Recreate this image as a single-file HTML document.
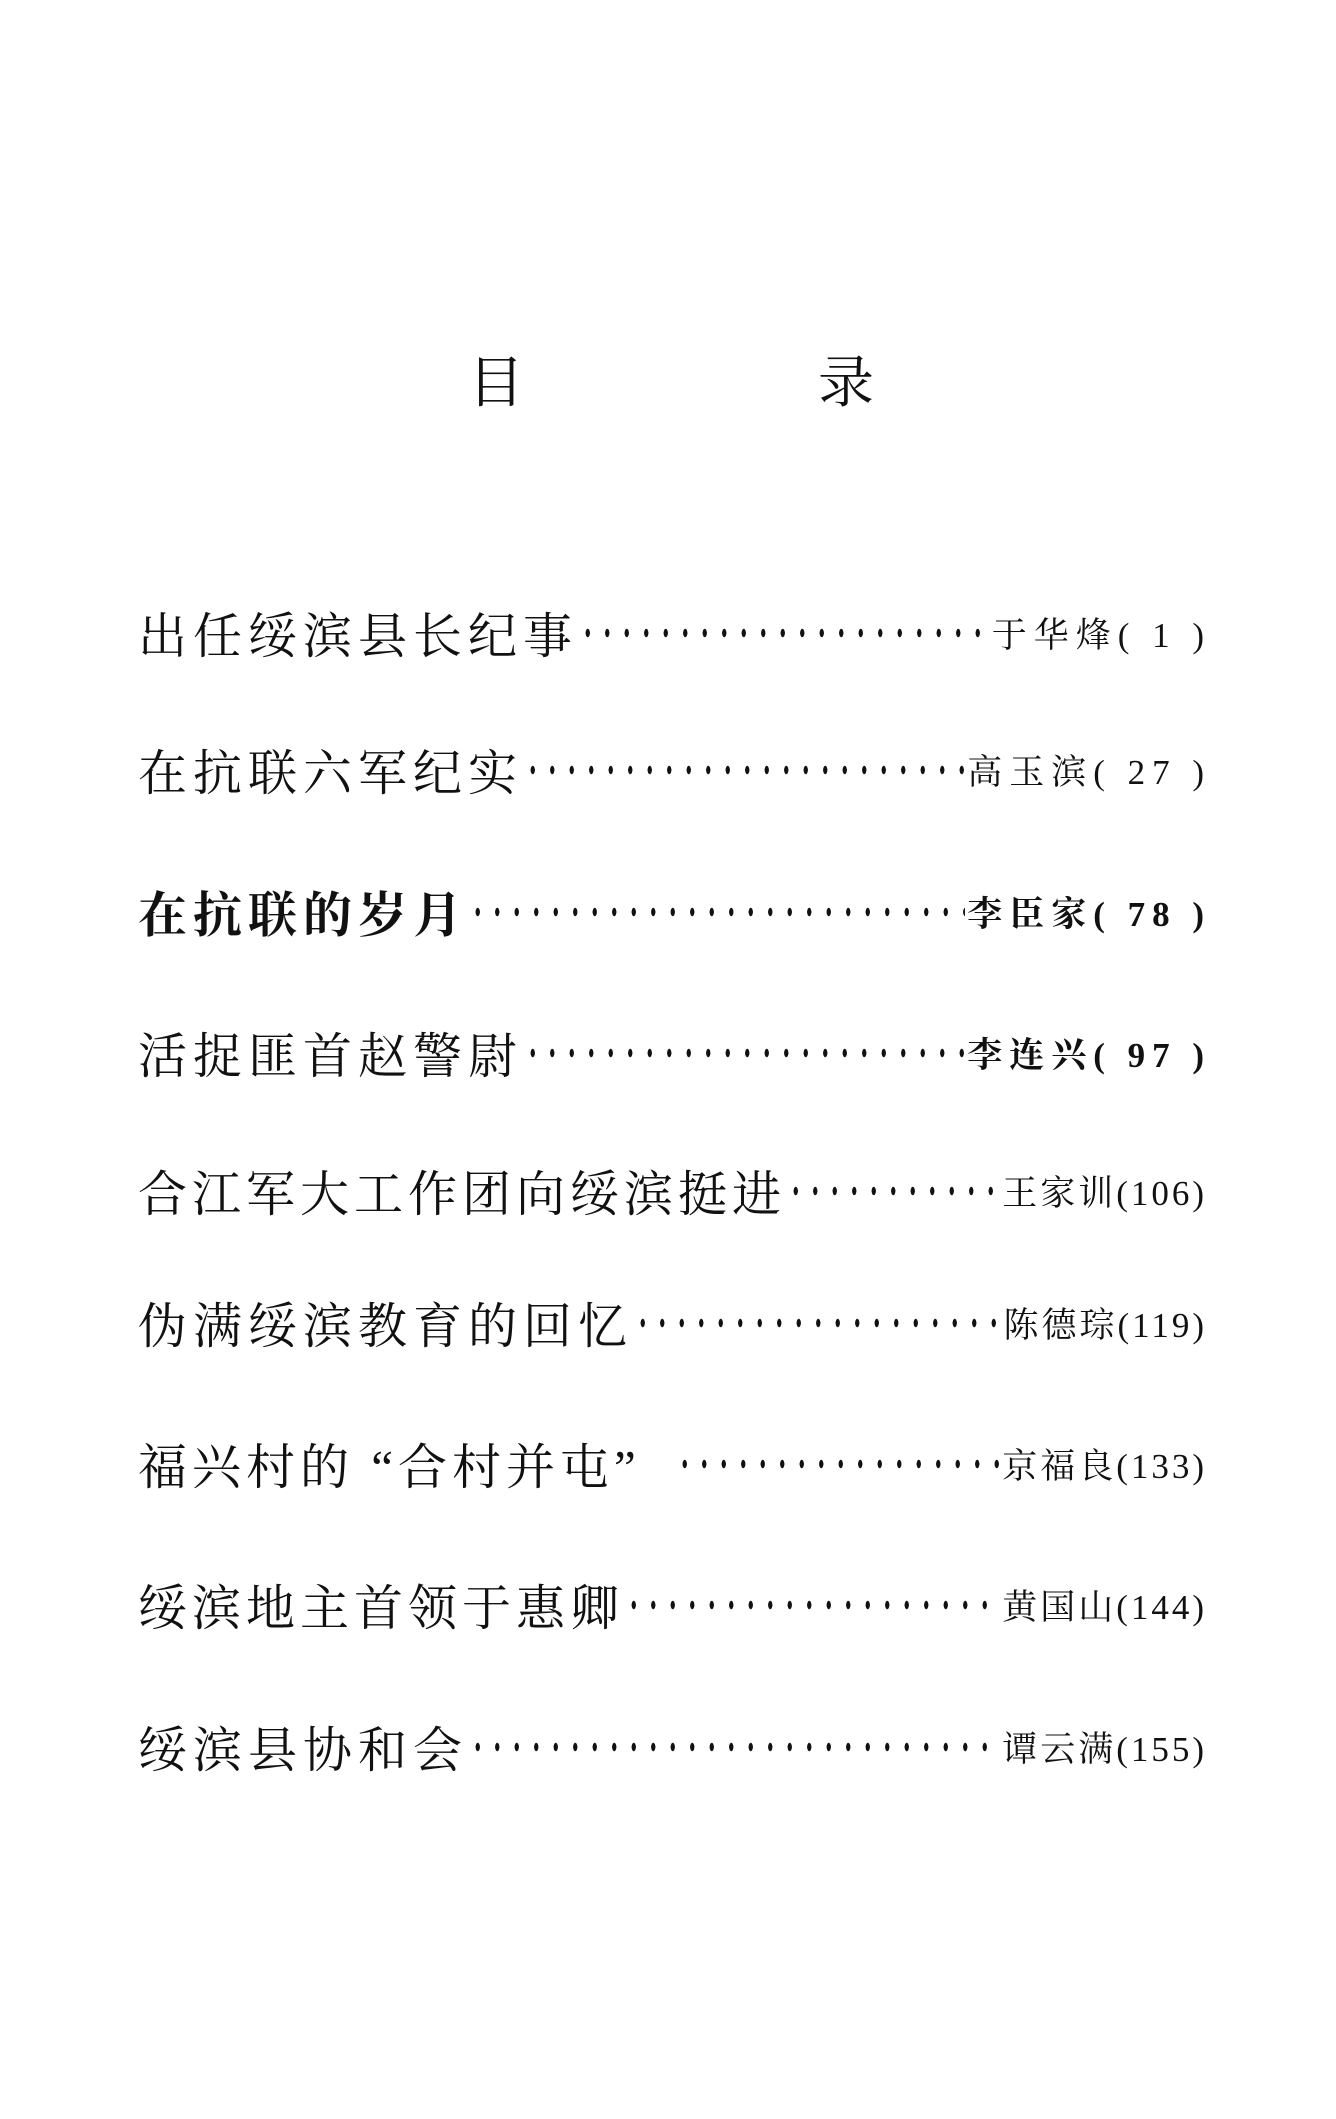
<!DOCTYPE html>
<html><head><meta charset="utf-8"><style>
html,body{margin:0;padding:0;background:#fff;}
body{width:1336px;height:2119px;position:relative;overflow:hidden;font-family:"Liberation Serif","Noto Serif CJK SC","Noto Sans CJK SC",serif;color:#111;}
.t{position:absolute;font-size:56px;line-height:56px;top:356px;}
.row{position:absolute;left:138px;width:1066px;height:56px;display:flex;align-items:center;}
.ti{font-size:49px;letter-spacing:6px;white-space:nowrap;}
.ld{flex:1;height:12px;margin:0 2px 0 0;background-image:radial-gradient(ellipse 2.3px 4.5px at center,#111 85%,transparent 100%);background-size:19.5px 12px;background-repeat:repeat-x;background-position:left center;}
.au{font-size:35px;white-space:nowrap;letter-spacing:7px;margin-right:-7px;}
</style></head><body>
<div class="t" style="left:468px;">目</div>
<div class="t" style="left:818px;">录</div>

<div class="row" style="top:605px"><span class="ti">出任绥滨县长纪事</span><span class="ld"></span><span class="au">于华烽( 1 )</span></div>
<div class="row" style="top:742px"><span class="ti">在抗联六军纪实</span><span class="ld"></span><span class="au">高玉滨( 27 )</span></div>
<div class="row" style="top:884px"><span class="ti" style="font-weight:bold">在抗联的岁月</span><span class="ld"></span><span class="au" style="font-weight:bold">李臣家( 78 )</span></div>
<div class="row" style="top:1025px"><span class="ti">活捉匪首赵警尉</span><span class="ld"></span><span class="au" style="font-weight:bold">李连兴( 97 )</span></div>
<div class="row" style="top:1163px"><span class="ti" style="letter-spacing:5px">合江军大工作团向绥滨挺进</span><span class="ld"></span><span class="au" style="letter-spacing:3px;margin-right:-3px">王家训(106)</span></div>
<div class="row" style="top:1295px"><span class="ti" style="letter-spacing:6px">伪满绥滨教育的回忆</span><span class="ld"></span><span class="au" style="letter-spacing:3px;margin-right:-3px">陈德琮(119)</span></div>
<div class="row" style="top:1436px"><span class="ti" style="letter-spacing:5px">福兴村的 “合村并屯”&nbsp;&nbsp;</span><span class="ld"></span><span class="au" style="letter-spacing:3px;margin-right:-3px">京福良(133)</span></div>
<div class="row" style="top:1577px"><span class="ti" style="letter-spacing:5px">绥滨地主首领于惠卿</span><span class="ld"></span><span class="au" style="letter-spacing:3px;margin-right:-3px">黄国山(144)</span></div>
<div class="row" style="top:1719px"><span class="ti">绥滨县协和会</span><span class="ld"></span><span class="au" style="letter-spacing:3px;margin-right:-3px">谭云满(155)</span></div>
</body></html>
